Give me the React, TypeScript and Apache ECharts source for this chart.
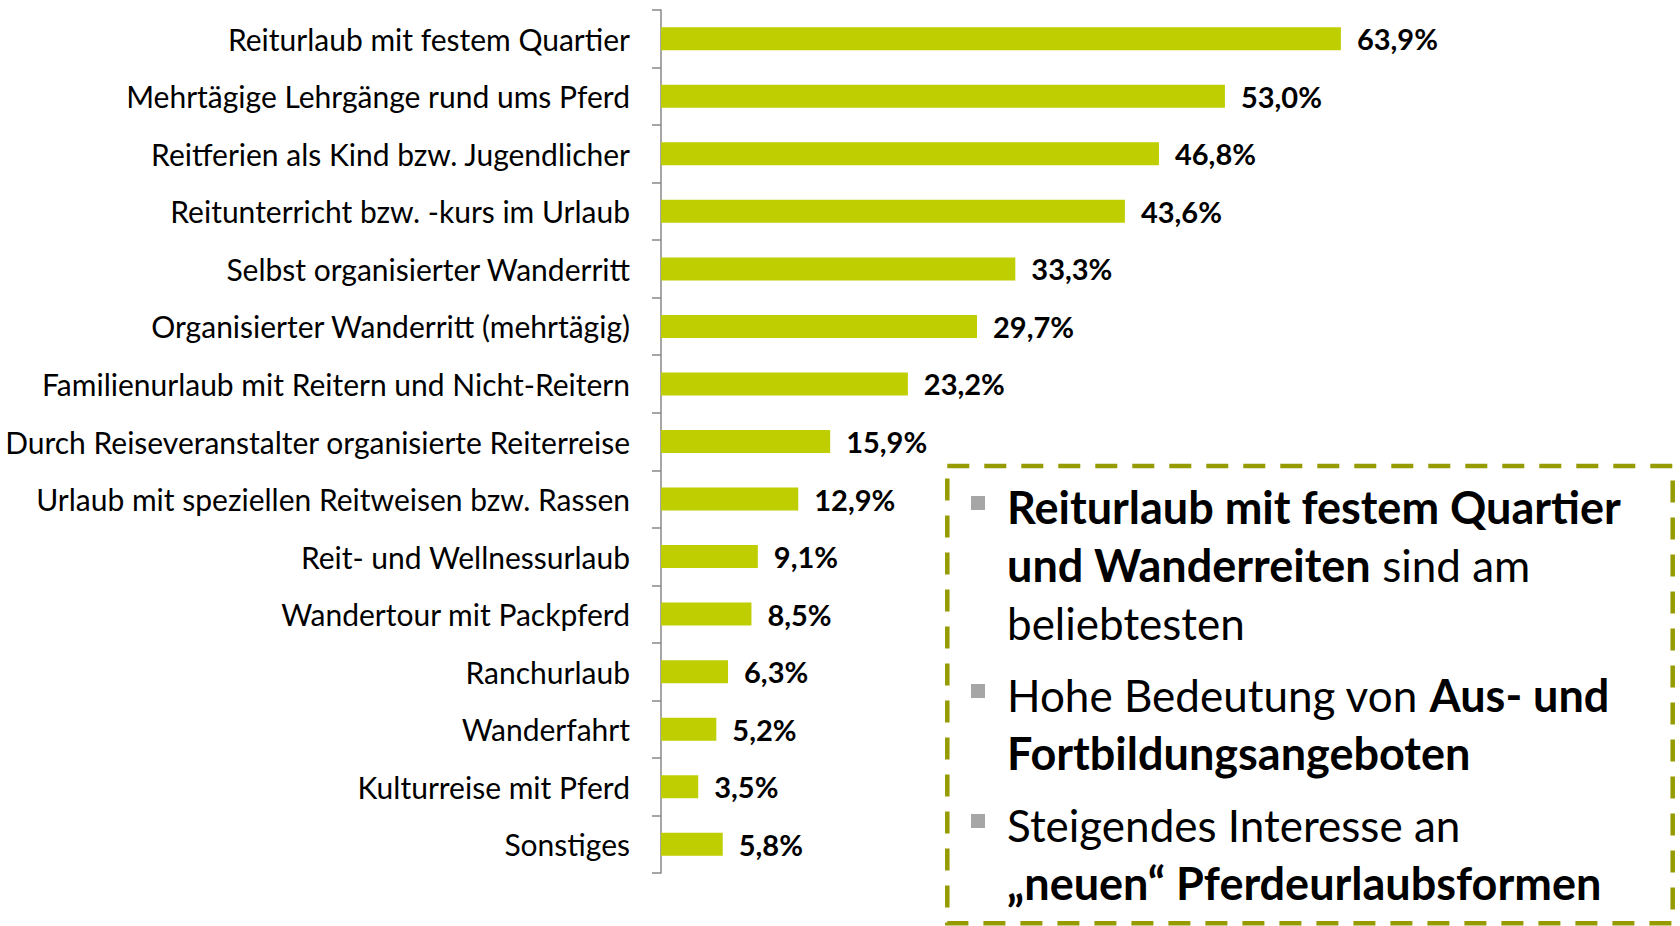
import React, { useEffect, useRef } from "react";
import * as echarts from "echarts";

const categories: string[] = [
  "Reiturlaub mit festem Quartier",
  "Mehrtägige Lehrgänge rund ums Pferd",
  "Reitferien als Kind bzw. Jugendlicher",
  "Reitunterricht bzw. -kurs im Urlaub",
  "Selbst organisierter Wanderritt",
  "Organisierter Wanderritt (mehrtägig)",
  "Familienurlaub mit Reitern und Nicht-Reitern",
  "Durch Reiseveranstalter organisierte Reiterreise",
  "Urlaub mit speziellen Reitweisen bzw. Rassen",
  "Reit- und Wellnessurlaub",
  "Wandertour mit Packpferd",
  "Ranchurlaub",
  "Wanderfahrt",
  "Kulturreise mit Pferd",
  "Sonstiges",
];

const values: number[] = [63.9, 53.0, 46.8, 43.6, 33.3, 29.7, 23.2, 15.9, 12.9, 9.1, 8.5, 6.3, 5.2, 3.5, 5.8];

// box text lines: each line is a list of [bold?, text]
const boxLines: Array<Array<[boolean, string]>> = [
  [[true, "Reiturlaub mit festem Quartier"]],
  [[true, "und Wanderreiten"], [false, " sind am"]],
  [[false, "beliebtesten"]],
  [[false, "Hohe Bedeutung von "], [true, "Aus- und"]],
  [[true, "Fortbildungsangeboten"]],
  [[false, "Steigendes Interesse an"]],
  [[true, "„neuen“ Pferdeurlaubsformen"]],
];
const bulletLines: number[] = [0, 3, 5];

const FONT = "Lato, 'Noto Sans', sans-serif";
const BAR_COLOR = "#BFCE00";
const BOX_COLOR = "#959B00";

export default function App() {
  const ref = useRef<HTMLDivElement>(null);

  useEffect(() => {
    if (!ref.current) return;
    const chart = echarts.init(ref.current, undefined, { renderer: "svg" });

    // layout of the box text lines
    const lineY: number[] = [];
    let y = 507;
    boxLines.forEach((_, i) => {
      if (i > 0) y += bulletLines.includes(i) ? 72 : 58;
      lineY.push(y);
    });

    const textEls: any[] = boxLines.map((parts, i) => ({
      type: "text",
      x: 1007,
      y: lineY[i],
      style: {
        text: parts.map(([b, t]) => `{${b ? "b" : "n"}|${t}}`).join(""),
        verticalAlign: "middle",
        align: "left",
        fill: "#000",
        fontFamily: FONT,
        fontSize: 44,
        rich: {
          b: { fontWeight: "bold", fontSize: 45, fontFamily: FONT, fill: "#000" },
          n: { fontWeight: "normal", fontSize: 44, fontFamily: FONT, fill: "#000" },
        },
      },
    }));

    const bulletEls: any[] = bulletLines.map((i) => ({
      type: "rect",
      shape: { x: 971, y: lineY[i] - 11, width: 14, height: 14 },
      style: { fill: "#A6A6A6" },
    }));

    chart.setOption({
      animation: false,
      backgroundColor: "#ffffff",
      grid: { left: 661, top: 10, width: 957.6, height: 863 },
      xAxis: {
        type: "value",
        min: 0,
        max: 90,
        show: false,
        splitLine: { show: false },
      },
      yAxis: {
        type: "category",
        data: categories,
        inverse: true,
        axisLine: { show: true, lineStyle: { color: "#888888", width: 1.5 } },
        axisTick: { show: true, length: 9, lineStyle: { color: "#888888", width: 1.5 } },
        axisLabel: {
          margin: 31,
          fontSize: 30,
          fontFamily: FONT,
          color: "#000000",
        },
      },
      series: [
        {
          type: "bar",
          data: values,
          barWidth: 23,
          itemStyle: { color: BAR_COLOR },
          label: {
            show: true,
            position: "right",
            distance: 16,
            fontSize: 29,
            fontWeight: "bold",
            fontFamily: FONT,
            color: "#000000",
            formatter: (p: any) => p.value.toFixed(1).replace(".", ",") + "%",
          },
        },
      ],
      graphic: [
        {
          type: "rect",
          shape: { x: 947.3, y: 466, width: 725.4, height: 457.3 },
          style: { fill: "none", stroke: BOX_COLOR, lineWidth: 4.5, lineDash: [22, 15] },
        },
        ...bulletEls,
        ...textEls,
      ],
    });

    return () => chart.dispose();
  }, []);

  return (
    <div
      ref={ref}
      style={{ position: "absolute", left: 0, top: 0, width: 1680, height: 926 }}
    />
  );
}
